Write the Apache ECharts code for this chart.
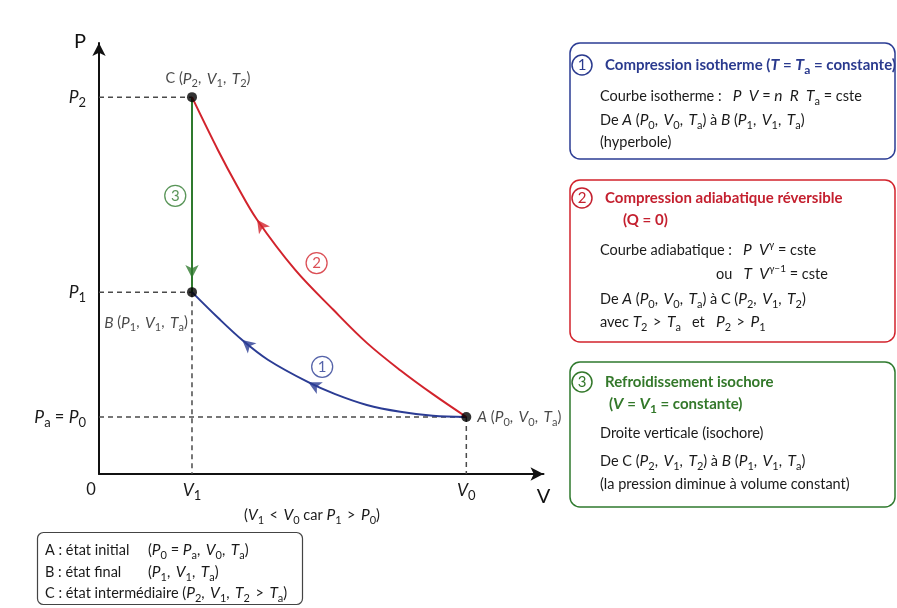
<!DOCTYPE html>
<html><head><meta charset="utf-8">
<script src="https://cdn.jsdelivr.net/npm/echarts@6/dist/echarts.min.js"></script>
<style>html,body{margin:0;padding:0;background:#fff}#c{width:897px;height:608px}</style>
</head><body><div id="c"></div>
<script>
// ---- data (arbitrary units: V1 = 1, P0 = 1) ----
const V1 = 1.00, V0 = 3.95;
const P0 = 1.00, P1 = 3.19, P2 = 6.61;
// isotherm B <- A (index 0 = B)
const isoV = [1.00, 1.28, 1.54, 1.82, 2.25, 2.54, 2.88, 3.24, 3.59, 3.95];
const isoP = [3.19, 2.74, 2.35, 2.00, 1.61, 1.40, 1.21, 1.09, 1.02, 1.00];
// adiabatic C <- A (index 0 = C)
const adiV = [1.00, 1.28, 1.49, 1.70, 2.11, 2.52, 2.88, 3.24, 3.59, 3.95];
const adiP = [6.61, 5.68, 5.04, 4.46, 3.58, 2.88, 2.30, 1.82, 1.40, 1.00];
// arrow positions
const isoArrowIdx = [2, 4];
const adiArrowIdx = [3];
const isochoreArrowP = 3.44;
// step-number markers positions [V, P]
const stepNames = ['1', '2', '3'];
const stepPos = [[2.40, 1.88], [2.34, 3.70], [0.82, 4.88]];
// tick labels
const yTickValues = [P0, P1, P2];
const yTickLabels = ['*P*_a = *P*_0', '*P*_1', '*P*_2'];
const xTickValues = [0, V1, V0];
const xTickLabels = ['0', '*V*_1', '*V*_0'];
const xMax = 4.78, yMax = 7.56;

const FONT = 'Lato, "Noto Sans", "DejaVu Sans", sans-serif';
const C_BLUE = '#2b3c94', C_RED = '#d2232c', C_GREEN = '#2f7a2e', C_DASH = '#4a4a4a', C_TEXT = '#1a1a1a';
const T_BLUE = '#2a3a8e', T_RED = '#c4202f', T_GREEN = '#33782a';

// mini markup -> ECharts rich text: *italic*, _sub, ^sup, {group}
function R(s, bold) {
  s = s.replace(/ ([<>]) /g, '\u2009 $1 \u2009').replace(/, /g, ',\u2009 ');
  const b = bold ? 'b' : '';
  let out = '', cur = '', it = false;
  const flush = () => { if (cur) { out += '{' + (it ? 'i' : 'n') + b + '|' + cur + '}'; cur = ''; } };
  for (let k = 0; k < s.length; k++) {
    const ch = s[k];
    if (ch === '*') { flush(); it = !it; }
    else if (ch === '_' || ch === '^') {
      flush();
      let g;
      if (s[k + 1] === '{') { const e = s.indexOf('}', k + 2); g = s.slice(k + 2, e); k = e; }
      else { g = s[k + 1]; k++; }
      out += '{' + (ch === '_' ? 's' : 'p') + b + '|' + g + '}';
    } else cur += ch;
  }
  flush();
  return out;
}
function richDict(size, color, key) {
  const L = Math.round(size * 1.45), ss = Math.round(size * 0.79);
  const base = { fontFamily: FONT, fontSize: size, lineHeight: L }; base[key] = color;
  const ital = { fontFamily: FONT, fontSize: Math.round(size * 1.07 * 2) / 2, lineHeight: L, fontStyle: 'italic' }; ital[key] = color;
  const sub = { fontFamily: FONT, fontSize: ss, lineHeight: ss + 1, verticalAlign: 'bottom' }; sub[key] = color;
  const sup = { fontFamily: FONT, fontSize: Math.round(size * 0.7), lineHeight: Math.round(size * 0.7) + 1, verticalAlign: 'top' }; sup[key] = color;
  return {
    n: base, i: ital, s: sub, p: sup,
    nb: Object.assign({}, base, { fontWeight: 'bold' }), ib: Object.assign({}, ital, { fontWeight: 'bold' }),
    sb: Object.assign({}, sub, { fontWeight: 'bold' }), pb: Object.assign({}, sup, { fontWeight: 'bold' })
  };
}

// ---- graphic annotations (boxes) ----
const G = [];
function box(x, y, w, h, color, r, lw) { G.push({ type: 'rect', z: 0, shape: { x, y, width: w, height: h, r }, style: { fill: '#fff', stroke: color, lineWidth: lw } }); }
function txt(x, y, s, size, color, bold, align) {
  G.push({ type: 'text', z: 2, x, y, style: { text: R(s, bold), fontSize: size, fontFamily: FONT, fill: color, fontWeight: bold ? 'bold' : 'normal', align: align || 'left', verticalAlign: 'middle', rich: richDict(size, color, 'fill') } });
}
function num(cx, cy, n, color) {
  G.push({ type: 'circle', z: 1, shape: { cx, cy, r: 10 }, style: { fill: '#fff', stroke: color, lineWidth: 1.5 } });
  G.push({ type: 'text', z: 2, x: cx, y: cy + 0.5, style: { text: n, fontSize: 15, fontFamily: FONT, fill: color, align: 'center', verticalAlign: 'middle' } });
}
const BS = 14.5, TS = 15;
// box 1
box(570, 43, 325, 116, C_BLUE, 10, 1.5);
num(582, 65, '1', T_BLUE);
txt(605, 65, 'Compression isotherme (*T* = *T*_a = constante)', TS, T_BLUE, true);
txt(600, 96, 'Courbe isotherme :   *P  V* = *n  R  T*_a = cste', BS, C_TEXT);
txt(600, 120, 'De *A* (*P*_0, *V*_0, *T*_a) à *B* (*P*_1, *V*_1, *T*_a)', BS, C_TEXT);
txt(600, 142, '(hyperbole)', BS, C_TEXT);
// box 2
box(570, 180, 325, 162, C_RED, 10, 1.5);
num(582, 198, '2', T_RED);
txt(605, 198, 'Compression adiabatique réversible', TS, T_RED, true);
txt(623, 220, '(Q = 0)', TS, T_RED, true);
txt(600, 250, 'Courbe adiabatique :   *P  V*^γ = cste', BS, C_TEXT);
txt(716, 274, 'ou   *T  V*^{γ−1} = cste', BS, C_TEXT);
txt(600, 299, 'De *A* (*P*_0, *V*_0, *T*_a) à C (*P*_2, *V*_1, *T*_2)', BS, C_TEXT);
txt(600, 322, 'avec *T*_2 > *T*_a   et   *P*_2 > *P*_1', BS, C_TEXT);
// box 3
box(570, 362, 325, 145, C_GREEN, 10, 1.5);
num(582, 382, '3', T_GREEN);
txt(605, 382, 'Refroidissement isochore', TS, T_GREEN, true);
txt(609, 404, '(*V* = *V*_1 = constante)', TS, T_GREEN, true);
txt(600, 433, 'Droite verticale (isochore)', BS, C_TEXT);
txt(600, 461, 'De C (*P*_2, *V*_1, *T*_2) à *B* (*P*_1, *V*_1, *T*_a)', BS, C_TEXT);
txt(600, 484, '(la pression diminue à volume constant)', BS, C_TEXT);
// legend box bottom-left
box(37.5, 532.5, 265, 72, '#444', 6, 1.2);
txt(45, 550, 'A : état initial', BS, C_TEXT);
txt(148, 550, '(*P*_0 = *P*_a, *V*_0, *T*_a)', BS, C_TEXT);
txt(45, 572, 'B : état final', BS, C_TEXT);
txt(148, 572, '(*P*_1, *V*_1, *T*_a)', BS, C_TEXT);
txt(45, 593, 'C : état intermédiaire (*P*_2, *V*_1, *T*_2 > *T*_a)', BS, C_TEXT);
// note under the x axis
txt(312, 515, '(*V*_1 < *V*_0 car *P*_1 > *P*_0)', BS, C_TEXT, false, 'center');

// ---- series ----
const pts = (xs, ys) => xs.map((v, k) => [v, ys[k]]);
function dash(a, b) {
  return { type: 'line', data: [a, b], symbol: 'none', silent: true, z: 1, lineStyle: { color: C_DASH, width: 1.5, type: [5, 4] } };
}
const lookup = (vals, labels) => (v) => { const k = vals.findIndex(t => Math.abs(t - v) < 1e-6); return k >= 0 ? R(labels[k]) : ''; };
const tickRich = richDict(16.5, '#1a1a1a', 'color');
tickRich.z = { fontFamily: FONT, fontSize: 16.5, lineHeight: 24, color: '#1a1a1a', padding: [0, 16, 0, 0] };

const chart = echarts.init(document.getElementById('c'));
const lblRich = richDict(14.5, C_TEXT, 'color');
chart.setOption({
  animation: false,
  backgroundColor: '#fff',
  grid: { left: 99, top: 43, width: 444.5, height: 431, containLabel: false },
  xAxis: {
    type: 'value', min: 0, max: xMax,
    name: 'V', nameLocation: 'end', nameGap: 0,
    nameTextStyle: { fontFamily: FONT, fontSize: 20, color: '#111', align: 'center', verticalAlign: 'top', padding: [13, 0, 0, 0] },
    axisLine: { show: true, symbol: ['none', 'arrow'], symbolSize: [10, 13], lineStyle: { color: '#111', width: 2 } },
    axisTick: { show: false }, splitLine: { show: false },
    axisLabel: { customValues: xTickValues, margin: 4, rich: tickRich,
      formatter: (v) => { const k = xTickValues.findIndex(t => Math.abs(t - v) < 1e-6); if (k < 0) return ''; return k === 0 ? '{z|0}' : R(xTickLabels[k]); } }
  },
  yAxis: {
    type: 'value', min: 0, max: yMax,
    name: 'P', nameLocation: 'end', nameGap: 1,
    nameTextStyle: { fontFamily: FONT, fontSize: 20, color: '#111', align: 'right', verticalAlign: 'middle', padding: [0, 13, 0, 0] },
    axisLine: { show: true, symbol: ['none', 'arrow'], symbolSize: [10, 13], lineStyle: { color: '#111', width: 2 } },
    axisTick: { show: false }, splitLine: { show: false },
    axisLabel: { customValues: yTickValues, margin: 13, rich: tickRich, formatter: lookup(yTickValues, yTickLabels) }
  },
  graphic: G,
  series: [
    dash([0, P2], [V1, P2]),
    dash([0, P1], [V1, P1]),
    dash([V1, P1], [V1, 0]),
    dash([0, P0], [V0, P0]),
    dash([V0, P0], [V0, 0]),
    { type: 'line', data: [[V1, P2], [V1, P1]], symbol: 'none', z: 3, lineStyle: { color: C_GREEN, width: 2 } },
    { type: 'line', data: pts(isoV, isoP), smooth: 0.35, symbol: 'none', z: 3, lineStyle: { color: C_BLUE, width: 2 } },
    { type: 'line', data: pts(adiV, adiP), smooth: 0.35, symbol: 'none', z: 3, lineStyle: { color: C_RED, width: 2 } },
    { id: 'arrows', type: 'scatter', z: 4, symbol: 'arrow', symbolSize: [10, 13], data: [] },
    { type: 'scatter', z: 4, symbol: 'circle', symbolSize: 21,
      itemStyle: { color: '#fff', borderWidth: 1.3 },
      data: stepPos.map((p, k) => ({ value: p, itemStyle: { borderColor: [C_BLUE, C_RED, C_GREEN][k] },
        label: { show: true, position: 'inside', formatter: stepNames[k], fontFamily: FONT, fontSize: 15, color: [C_BLUE, C_RED, C_GREEN][k] } })) },
    { type: 'scatter', z: 5, symbol: 'circle', symbolSize: 10, itemStyle: { color: '#000' },
      label: { show: true, rich: lblRich },
      data: [
        { value: [V0, P0], label: { position: 'right', distance: 6, formatter: R('*A* (*P*_0, *V*_0, *T*_a)') } },
        { value: [V1, P1], label: { position: 'bottom', distance: 15, offset: [-46, 0], formatter: R('*B* (*P*_1, *V*_1, *T*_a)') } },
        { value: [V1, P2], label: { position: 'top', distance: 3, offset: [16, 0], formatter: R('C (*P*_2, *V*_1, *T*_2)') } }
      ] }
  ]
});

// arrow heads oriented along their curve (direction of the process)
function rot(p, q) {
  const a = chart.convertToPixel({ gridIndex: 0 }, p), b = chart.convertToPixel({ gridIndex: 0 }, q);
  return Math.atan2(-(b[1] - a[1]), b[0] - a[0]) * 180 / Math.PI - 90;
}
const arrows = [];
isoArrowIdx.forEach(k => arrows.push({ value: [isoV[k], isoP[k]], symbolRotate: rot([isoV[k + 1], isoP[k + 1]], [isoV[k - 1], isoP[k - 1]]), itemStyle: { color: C_BLUE } }));
adiArrowIdx.forEach(k => arrows.push({ value: [adiV[k], adiP[k]], symbolRotate: rot([adiV[k + 1], adiP[k + 1]], [adiV[k - 1], adiP[k - 1]]), itemStyle: { color: C_RED } }));
arrows.push({ value: [V1, isochoreArrowP], symbolRotate: rot([V1, P2], [V1, P1]), itemStyle: { color: C_GREEN } });
chart.setOption({ series: [{ id: 'arrows', data: arrows }] });
</script></body></html>
